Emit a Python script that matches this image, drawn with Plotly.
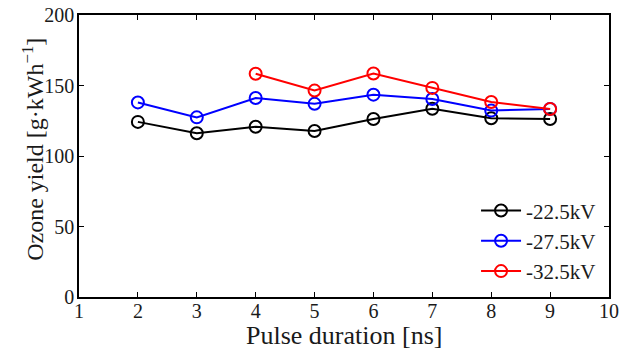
import plotly.graph_objects as go

pulse_ns = [2, 3, 4, 5, 6, 7, 8, 9]
yield_22_5 = [124.2, 116.1, 120.7, 117.7, 126.2, 133.5, 126.8, 126.2]
yield_27_5 = [138.0, 127.4, 141.1, 137.0, 143.5, 140.4, 132.2, 133.4]
pulse_32_5 = [4, 5, 6, 7, 8, 9]
yield_32_5 = [158.3, 146.4, 158.5, 148.3, 138.3, 133.3]

x_ticks = [1, 2, 3, 4, 5, 6, 7, 8, 9, 10]
y_ticks = [0, 50, 100, 150, 200]

FONT = "Liberation Serif"
TXT = "#1a1a1a"

fig = go.Figure()
for name, xs, ys, col in [
    ("-22.5kV", pulse_ns, yield_22_5, "black"),
    ("-27.5kV", pulse_ns, yield_27_5, "blue"),
    ("-32.5kV", pulse_32_5, yield_32_5, "red"),
]:
    fig.add_trace(go.Scatter(
        x=xs, y=ys, name=name, mode="lines+markers",
        line=dict(color=col, width=2),
        marker=dict(symbol="circle-open", size=12, color=col, line=dict(width=2, color=col)),
    ))

axis_common = dict(
    showgrid=False, zeroline=False, showline=True, linecolor="black", linewidth=1.5,
    mirror="ticks", ticks="inside", ticklen=5, tickcolor="black", tickwidth=1,
    tickfont=dict(family=FONT, size=20, color=TXT), automargin=False,
    ticklabeloverflow="allow",
)

fig.update_layout(
    width=620, height=349,
    margin=dict(l=79, r=11, t=15, b=52),
    paper_bgcolor="white", plot_bgcolor="white",
    font=dict(family=FONT, color=TXT),
    xaxis=dict(range=[1, 10], tickvals=x_ticks, ticklabelstandoff=-5, **axis_common),
    yaxis=dict(range=[0, 200], tickvals=y_ticks, ticklabelstandoff=-1, **axis_common),
    legend=dict(x=0.985, y=0.02, xanchor="right", yanchor="bottom",
                bgcolor="rgba(255,255,255,0)", borderwidth=0,
                font=dict(family=FONT, size=21, color=TXT),
                tracegroupgap=0, itemwidth=40),
    annotations=[
        dict(text="Pulse duration [ns]", xref="paper", yref="paper",
             x=0.5, y=-0.135, xanchor="center", yanchor="middle", showarrow=False,
             font=dict(family=FONT, size=26, color=TXT)),
        dict(text="Ozone yield [g·kWh<sup>−1</sup>]", xref="paper", yref="paper",
             x=-0.087, y=0.525, xanchor="center", yanchor="middle", showarrow=False,
             textangle=-90, font=dict(family=FONT, size=24, color=TXT)),
    ],
)

fig.write_html("out.html", config={"displayModeBar": False},
               post_script="document.body.style.margin='0px';")
